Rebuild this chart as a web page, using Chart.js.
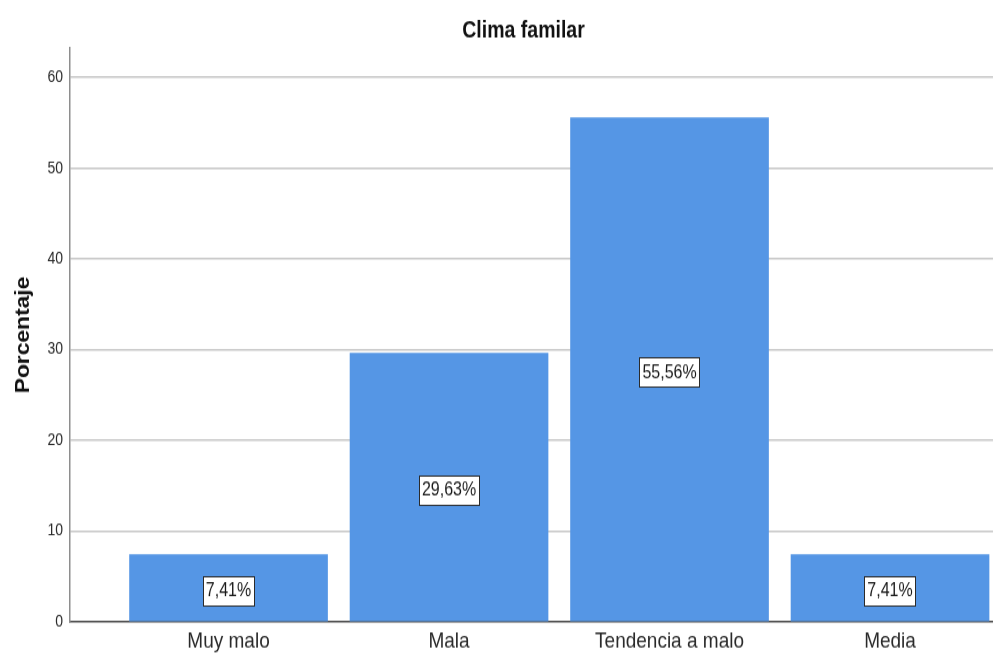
<!DOCTYPE html>
<html>
<head>
<meta charset="utf-8">
<title>Clima familar</title>
<script src="https://cdn.jsdelivr.net/npm/chart.js@4/dist/chart.umd.min.js"></script>
<style>
  html, body { margin: 0; padding: 0; background: #fff; }
  /* drawn at 561px tall and shown at 657px: same vertically stretched look as the SPSS export */
  #c { width: 993px; height: 657px; }
</style>
</head>
<body>
<canvas id="c" width="993" height="561" style="width:993px;height:657px"></canvas>
<script>
'use strict';

const categories = ['Muy malo', 'Mala', 'Tendencia a malo', 'Media'];
const percents = [7.41, 29.63, 55.56, 7.41];
const yTicks = [0, 10, 20, 30, 40, 50, 60];
const chartTitle = 'Clima familar';
const yTitle = 'Porcentaje';

const FONT = '"Liberation Sans", Arial, Helvetica, sans-serif';
const BAR = '#5596e5';

function pctText(v) { return v.toFixed(2).replace('.', ',') + '%'; }

// white boxed value label in the middle of each bar
const valueLabels = {
  id: 'valueLabels',
  afterDatasetsDraw(chart) {
    const ctx = chart.ctx;
    const meta = chart.getDatasetMeta(0);
    ctx.save();
    ctx.font = '16px ' + FONT;
    ctx.textAlign = 'center';
    ctx.textBaseline = 'middle';
    meta.data.forEach((bar, i) => {
      const txt = pctText(percents[i]);
      const w = ctx.measureText(txt).width + 6;
      const h = 24.5;
      const cy = (bar.y + bar.base) / 2 + 2;
      const x0 = Math.round(bar.x - w / 2) + 0.5, y0 = Math.round(cy - h / 2) + 0.5;
      ctx.fillStyle = '#fff';
      ctx.fillRect(x0, y0, Math.round(w), Math.round(h));
      ctx.strokeStyle = '#2b2b2b';
      ctx.lineWidth = 1;
      ctx.strokeRect(x0, y0, Math.round(w), Math.round(h));
      ctx.fillStyle = '#1a1a1a';
      ctx.fillText(txt, bar.x, cy + 1);
    });
    ctx.restore();
  }
};

// chart title and rotated axis title
const titles = {
  id: 'titles',
  afterDraw(chart) {
    const ctx = chart.ctx, a = chart.chartArea;
    ctx.save();
    ctx.fillStyle = '#111';
    ctx.textAlign = 'center';
    ctx.textBaseline = 'middle';
    ctx.font = 'bold 19.5px ' + FONT;
    ctx.fillText(chartTitle, 523.5, 26.5);
    ctx.translate(23.5, (a.top + a.bottom) / 2);
    ctx.rotate(-Math.PI / 2);
    ctx.font = 'bold 19.5px ' + FONT;
    ctx.fillText(yTitle, 0, 0);
    ctx.restore();
  }
};

new Chart(document.getElementById('c').getContext('2d'), {
  type: 'bar',
  data: {
    datasets: [{
      data: percents.map((v, i) => ({ x: i, y: v })),
      backgroundColor: BAR,
      borderWidth: 0,
      barThickness: 198,
    }]
  },
  options: {
    responsive: false,
    devicePixelRatio: 1,
    animation: false,
    layout: { padding: { top: 41, left: 0, right: 0, bottom: 0 } },
    plugins: { legend: { display: false }, tooltip: { enabled: false }, title: { display: false } },
    scales: {
      x: {
        type: 'linear',
        offset: false,
        min: -0.719,
        max: 3.467,
        afterBuildTicks: (s) => { s.ticks = categories.map((_, i) => ({ value: i })); },
        afterFit: (s) => { s.height = 30; },
        grid: { display: false, drawTicks: false, offset: false },
        border: { display: true, color: '#4a4a4a', width: 1.5 },
        ticks: {
          callback: (v) => categories[v],
          font: { family: FONT, size: 19 },
          color: '#2a2a2a',
          padding: 5.5,
          maxRotation: 0,
          autoSkip: false,
        },
      },
      y: {
        min: 0,
        max: 63.25,
        afterBuildTicks: (s) => { s.ticks = yTicks.map((v) => ({ value: v })); },
        afterFit: (s) => { s.width = 70; },
        grid: {
          drawTicks: false,
          lineWidth: 1.5,
          color: (c) => (c.tick && c.tick.value === 0 ? 'rgba(0,0,0,0)' : '#c6c6c6'),
        },
        border: { display: true, color: '#8e8e8e', width: 1.5 },
        ticks: {
          font: { family: FONT, size: 14 },
          color: '#2a2a2a',
          padding: 7,
        },
      },
    },
  },
  plugins: [valueLabels, titles],
});
</script>
</body>
</html>
